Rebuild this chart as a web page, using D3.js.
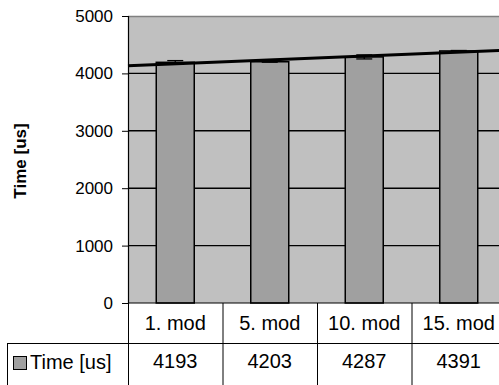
<!DOCTYPE html>
<html>
<head>
<meta charset="utf-8">
<script src="https://cdn.jsdelivr.net/npm/d3@7"></script>
<style>
  html, body { margin: 0; padding: 0; background: #fff; }
  svg { display: block; font-family: "Liberation Sans", Arial, sans-serif; }
</style>
</head>
<body>
<svg id="chart" width="499" height="385"></svg>
<script>
// Benchmark: run time per module count
const categories = ["1. mod", "5. mod", "10. mod", "15. mod"];
const times = [4193, 4203, 4287, 4391];
const errors = [30, 8, 35, 8];
const yTicks = [0, 1000, 2000, 3000, 4000, 5000];
const seriesName = "Time [us]";

const svg = d3.select("#chart");
const plotL = 128, plotR = 506, plotT = 16, plotB = 303;
const rowH = 40;
const fontFam = "Liberation Sans, Arial, sans-serif";

const x = d3.scaleBand().domain(categories).range([plotL, plotR]);
const y = d3.scaleLinear().domain([0, 5000]).range([plotB, plotT]);

// plot background
svg.append("rect")
  .attr("x", plotL).attr("y", plotT)
  .attr("width", plotR - plotL).attr("height", plotB - plotT)
  .attr("fill", "#c0c0c0");
svg.append("line")
  .attr("x1", plotL).attr("x2", plotR).attr("y1", plotT + 0.5).attr("y2", plotT + 0.5)
  .attr("stroke", "#808080").attr("stroke-width", 1.5);

// gridlines
svg.append("g").selectAll("line")
  .data(yTicks.filter(d => d > 0 && d < 5000))
  .join("line")
  .attr("x1", plotL).attr("x2", plotR)
  .attr("y1", d => y(d)).attr("y2", d => y(d))
  .attr("stroke", "#000").attr("stroke-width", 1.4);

// y axis
const yAxis = d3.axisLeft(y).tickValues(yTicks).tickFormat(d3.format("d")).tickSize(6).tickPadding(9);
const gy = svg.append("g").attr("transform", `translate(${plotL},0)`).call(yAxis)
  .attr("font-family", fontFam).attr("font-size", 17);
gy.select(".domain").attr("stroke", "#000").attr("stroke-width", 1.2);
gy.selectAll(".tick line").attr("stroke", "#000");
gy.selectAll("text").attr("fill", "#000");

// y axis title
svg.append("text")
  .attr("transform", `translate(26,161) rotate(-90)`)
  .attr("text-anchor", "middle")
  .attr("font-size", 17).attr("font-weight", "bold")
  .text(seriesName);

// bars
const barW = 38;
svg.append("g").selectAll("rect")
  .data(times)
  .join("rect")
  .attr("x", (d, i) => x(categories[i]) + x.bandwidth() / 2 - barW / 2)
  .attr("y", d => y(d))
  .attr("width", barW)
  .attr("height", d => plotB - y(d))
  .attr("fill", "#a0a0a0")
  .attr("stroke", "#000").attr("stroke-width", 1.5);

// error bars
const capW = 16;
const eb = svg.append("g").attr("stroke", "#000").attr("stroke-width", 1.3);
times.forEach((v, i) => {
  const cx = x(categories[i]) + x.bandwidth() / 2;
  const hi = y(v + errors[i]), lo = y(v - errors[i]);
  eb.append("line").attr("x1", cx).attr("x2", cx).attr("y1", hi).attr("y2", lo);
  eb.append("line").attr("x1", cx - capW / 2).attr("x2", cx + capW / 2).attr("y1", hi).attr("y2", hi);
  eb.append("line").attr("x1", cx - capW / 2).attr("x2", cx + capW / 2).attr("y1", lo).attr("y2", lo);
});

// linear trend line (least squares over category index)
const n = times.length;
const xs = d3.range(1, n + 1);
const mx = d3.mean(xs), my = d3.mean(times);
const slope = d3.sum(xs, (xi, i) => (xi - mx) * (times[i] - my)) / d3.sum(xs, xi => (xi - mx) ** 2);
const trend = xi => my + slope * (xi - mx);
const idxToPx = d3.scaleLinear().domain([0.5, n + 0.5]).range([plotL, plotR]);
svg.append("line")
  .attr("x1", idxToPx(0.5)).attr("y1", y(trend(0.5)))
  .attr("x2", idxToPx(n + 0.5)).attr("y2", y(trend(n + 0.5)))
  .attr("stroke", "#000").attr("stroke-width", 3);

// x axis base line
svg.append("line")
  .attr("x1", plotL).attr("x2", plotR).attr("y1", plotB).attr("y2", plotB)
  .attr("stroke", "#000").attr("stroke-width", 1.2);

// data table
const tbl = svg.append("g").attr("stroke", "#000").attr("stroke-width", 1);
const row2 = plotB + rowH;
const legendLeft = 7.5;
categories.forEach(c => {
  const bx = x(c) + 0.5;
  tbl.append("line").attr("x1", bx).attr("x2", bx).attr("y1", plotB).attr("y2", 385);
});
tbl.append("line").attr("x1", plotR).attr("x2", plotR).attr("y1", plotB).attr("y2", 385);
tbl.append("line").attr("x1", legendLeft).attr("x2", plotR).attr("y1", row2 + 0.5).attr("y2", row2 + 0.5);
tbl.append("line").attr("x1", legendLeft).attr("x2", legendLeft).attr("y1", row2).attr("y2", 385);

const tf = 20;
svg.append("g").selectAll("text")
  .data(categories)
  .join("text")
  .attr("x", d => x(d) + x.bandwidth() / 2)
  .attr("y", plotB + rowH / 2 + 7)
  .attr("text-anchor", "middle")
  .attr("font-size", tf)
  .text(d => d);

svg.append("g").selectAll("text")
  .data(times)
  .join("text")
  .attr("x", (d, i) => x(categories[i]) + x.bandwidth() / 2)
  .attr("y", row2 + 25)
  .attr("text-anchor", "middle")
  .attr("font-size", tf)
  .text(d => d);

// legend key in table
svg.append("rect")
  .attr("x", 13.5).attr("y", row2 + 13.5).attr("width", 13).attr("height", 13)
  .attr("fill", "#a0a0a0").attr("stroke", "#000").attr("stroke-width", 1);
svg.append("text")
  .attr("x", 30).attr("y", row2 + 26)
  .attr("font-size", tf)
  .text(seriesName);
</script>
</body>
</html>
